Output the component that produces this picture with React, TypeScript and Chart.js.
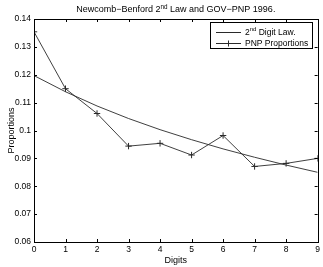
import React, { useEffect, useRef } from "react";
import { Chart, registerables } from "chart.js";

Chart.register(...registerables);

const digits = [0, 1, 2, 3, 4, 5, 6, 7, 8, 9];
const benfordSecondDigit = [0.1197, 0.1139, 0.1088, 0.1043, 0.1003, 0.0967, 0.0934, 0.0904, 0.0876, 0.085];
const pnpProportions = [0.1354, 0.115, 0.1061, 0.0944, 0.0954, 0.0912, 0.0982, 0.0871, 0.0882, 0.09];
const yTickValues = [0.06, 0.07, 0.08, 0.09, 0.1, 0.11, 0.12, 0.13, 0.14];
const titleParts = [
  { text: "Newcomb\u2212Benford 2" },
  { text: "nd", sup: true },
  { text: " Law and GOV\u2212PNP 1996." },
];
const legendBenford = [{ text: "2" }, { text: "nd", sup: true }, { text: " Digit Law." }];
const legendPnp = [{ text: "PNP Proportions" }];
const xLabel = "Digits";
const yLabel = "Proportions";

const FONT = "'Liberation Sans', Arial, Helvetica, sans-serif";
const INK = "#000";
const LINE = "#2a2a2a";

type Part = { text: string; sup?: boolean };

function richWidth(ctx: CanvasRenderingContext2D, parts: Part[], size: number) {
  let w = 0;
  for (const p of parts) {
    ctx.font = `${p.sup ? size * 0.7 : size}px ${FONT}`;
    w += ctx.measureText(p.text).width;
  }
  return w;
}

function drawRich(ctx: CanvasRenderingContext2D, parts: Part[], x: number, y: number, size: number) {
  let cx = x;
  ctx.textAlign = "left";
  ctx.textBaseline = "middle";
  for (const p of parts) {
    ctx.font = `${p.sup ? size * 0.7 : size}px ${FONT}`;
    ctx.fillText(p.text, cx, p.sup ? y - size * 0.35 : y);
    cx += ctx.measureText(p.text).width;
  }
}

const matlabPlugin = {
  id: "matlabFrame",
  afterDatasetsDraw(chart: any) {
    const { ctx, chartArea } = chart;
    const { left, right, top, bottom } = chartArea;
    const xs = chart.scales.x;
    const ys = chart.scales.y;
    ctx.save();
    ctx.strokeStyle = INK;
    ctx.lineWidth = 1;
    ctx.strokeRect(Math.round(left) + 0.5, Math.round(top) + 0.5, Math.round(right - left), Math.round(bottom - top));
    const tl = 3;
    ctx.beginPath();
    for (const d of digits) {
      const px = Math.round(xs.getPixelForValue(d)) + 0.5;
      ctx.moveTo(px, bottom);
      ctx.lineTo(px, bottom - tl);
      ctx.moveTo(px, top);
      ctx.lineTo(px, top + tl);
    }
    for (const v of yTickValues) {
      const py = Math.round(ys.getPixelForValue(v)) + 0.5;
      ctx.moveTo(left, py);
      ctx.lineTo(left + tl, py);
      ctx.moveTo(right, py);
      ctx.lineTo(right - tl, py);
    }
    ctx.stroke();

    ctx.fillStyle = INK;
    const tSize = 9;
    const tw = richWidth(ctx, titleParts, tSize);
    drawRich(ctx, titleParts, (left + right) / 2 - tw / 2, 10, tSize);

    const bx = 210.5, by = 22.5, bw = 102, bh = 26;
    ctx.fillStyle = "#fff";
    ctx.fillRect(bx, by, bw, bh);
    ctx.strokeRect(bx, by, bw, bh);
    const rows = [
      { parts: legendBenford, y: 32.5, marker: false },
      { parts: legendPnp, y: 43.5, marker: true },
    ];
    for (const r of rows) {
      ctx.strokeStyle = LINE;
      ctx.beginPath();
      ctx.moveTo(216, r.y);
      ctx.lineTo(241, r.y);
      if (r.marker) {
        ctx.moveTo(228.5, r.y - 3);
        ctx.lineTo(228.5, r.y + 3);
        ctx.moveTo(225.5, r.y);
        ctx.lineTo(231.5, r.y);
      }
      ctx.stroke();
      ctx.fillStyle = INK;
      drawRich(ctx, r.parts, 245, r.y, 8.5);
    }
    ctx.restore();
  },
};

export default function App() {
  const ref = useRef<HTMLCanvasElement | null>(null);
  useEffect(() => {
    if (!ref.current) return;
    const chart = new Chart(ref.current, {
      type: "line",
      data: {
        labels: digits,
        datasets: [
          {
            label: "2nd Digit Law.",
            data: digits.map((d, i) => ({ x: d, y: benfordSecondDigit[i] })),
            borderColor: LINE,
            borderWidth: 0.9,
            pointRadius: 0,
            tension: 0,
            fill: false,
          },
          {
            label: "PNP Proportions",
            data: digits.map((d, i) => ({ x: d, y: pnpProportions[i] })),
            borderColor: LINE,
            borderWidth: 0.9,
            pointStyle: "cross",
            pointRadius: 3.2,
            pointBorderColor: LINE,
            pointBorderWidth: 1,
            tension: 0,
            fill: false,
          },
        ],
      },
      options: {
        responsive: false,
        animation: false,
        events: [],
        layout: { padding: { top: 19, right: 5, left: 0, bottom: 0 } },
        plugins: { legend: { display: false }, title: { display: false }, tooltip: { enabled: false } },
        scales: {
          x: {
            type: "linear",
            min: 0,
            max: 9,
            grid: { display: false, drawTicks: false },
            border: { display: false },
            afterBuildTicks: (s: any) => {
              s.ticks = digits.map((v) => ({ value: v }));
            },
            afterFit: (s: any) => {
              s.height = 25;
            },
            ticks: {
              padding: 3,
              color: INK,
              font: { family: FONT, size: 8.5 },
              maxRotation: 0,
              autoSkip: false,
              callback: (v: any) => String(v),
            },
            title: {
              display: true,
              text: xLabel,
              color: INK,
              font: { family: FONT, size: 9 },
              padding: { top: 0, bottom: 1 },
            },
          },
          y: {
            type: "linear",
            min: 0.06,
            max: 0.14,
            grid: { display: false, drawTicks: false },
            border: { display: false },
            afterBuildTicks: (s: any) => {
              s.ticks = yTickValues.map((v) => ({ value: v }));
            },
            afterFit: (s: any) => {
              s.width = 34;
            },
            ticks: {
              padding: 3,
              color: INK,
              font: { family: FONT, size: 8.5 },
              autoSkip: false,
              callback: (v: any) => String(Number(Number(v).toFixed(2))),
            },
            title: {
              display: true,
              text: yLabel,
              color: INK,
              font: { family: FONT, size: 9 },
              padding: { top: 6, bottom: 0 },
            },
          },
        },
      },
      plugins: [matlabPlugin],
    });
    return () => chart.destroy();
  }, []);
  return (
    <div style={{ position: "fixed", left: 0, top: 0, width: 323, height: 267, background: "#fff" }}>
      <canvas ref={ref} width={323} height={267} style={{ display: "block" }} />
    </div>
  );
}
